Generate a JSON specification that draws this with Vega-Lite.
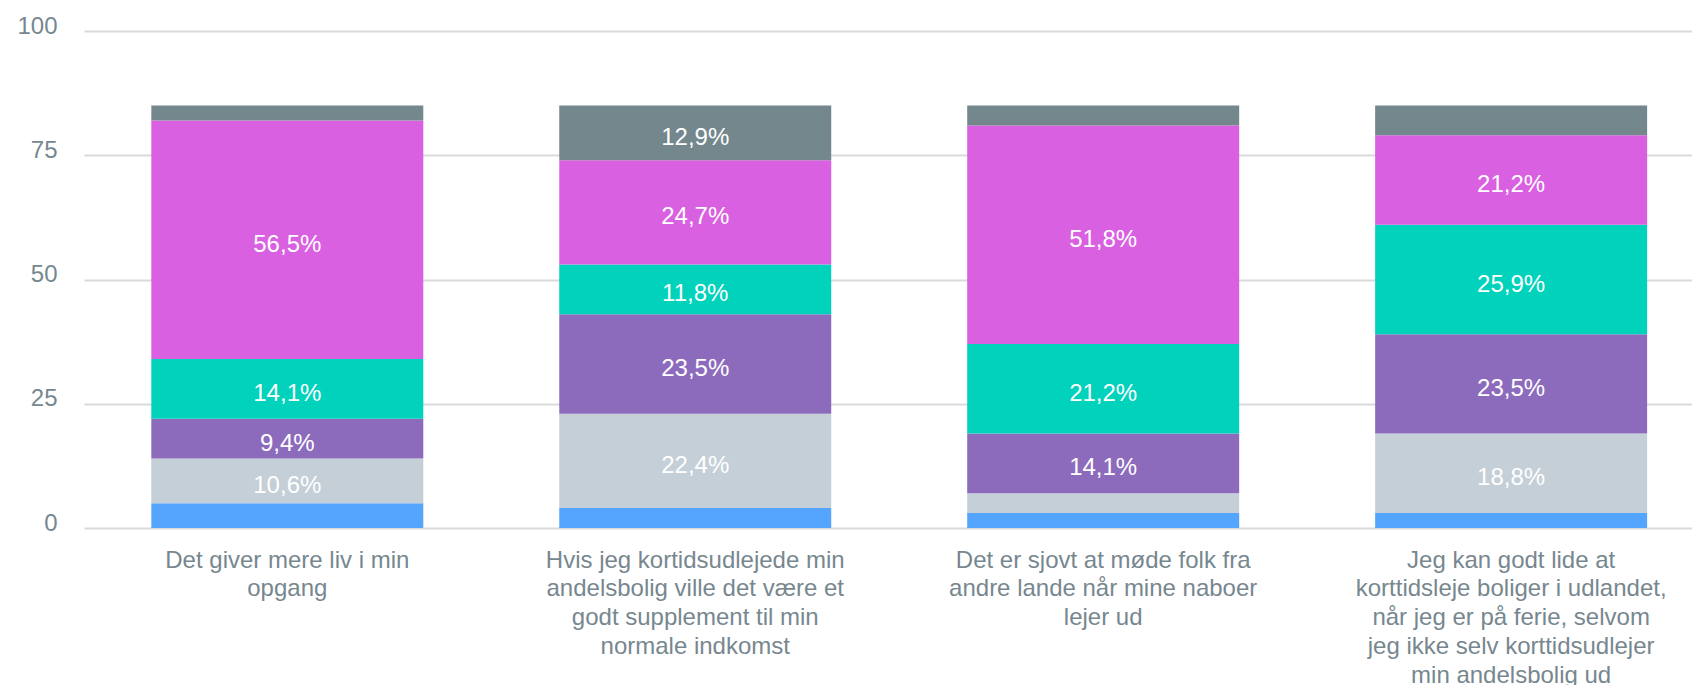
{
  "$schema": "https://vega.github.io/schema/vega-lite/v6.json",
  "autosize": {"type": "none"},
  "padding": {"left": 84, "top": 31, "right": 0, "bottom": 157},
  "width": 1608,
  "height": 497,
  "background": "#ffffff",
  "config": {
    "view": {"stroke": null},
    "font": "Liberation Sans"
  },
  "data": {
    "values": [
      {"category": "Det giver mere liv i min|opgang", "series": "Helt uenig", "order": 1, "count": 5, "label": ""},
      {"category": "Det giver mere liv i min|opgang", "series": "Delvist uenig", "order": 2, "count": 9, "label": "10,6%"},
      {"category": "Det giver mere liv i min|opgang", "series": "Hverken enig eller uenig", "order": 3, "count": 8, "label": "9,4%"},
      {"category": "Det giver mere liv i min|opgang", "series": "Delvist enig", "order": 4, "count": 12, "label": "14,1%"},
      {"category": "Det giver mere liv i min|opgang", "series": "Helt enig", "order": 5, "count": 48, "label": "56,5%"},
      {"category": "Det giver mere liv i min|opgang", "series": "Ved ikke", "order": 6, "count": 3, "label": ""},
      {"category": "Hvis jeg kortidsudlejede min|andelsbolig ville det være et|godt supplement til min|normale indkomst", "series": "Helt uenig", "order": 1, "count": 4, "label": ""},
      {"category": "Hvis jeg kortidsudlejede min|andelsbolig ville det være et|godt supplement til min|normale indkomst", "series": "Delvist uenig", "order": 2, "count": 19, "label": "22,4%"},
      {"category": "Hvis jeg kortidsudlejede min|andelsbolig ville det være et|godt supplement til min|normale indkomst", "series": "Hverken enig eller uenig", "order": 3, "count": 20, "label": "23,5%"},
      {"category": "Hvis jeg kortidsudlejede min|andelsbolig ville det være et|godt supplement til min|normale indkomst", "series": "Delvist enig", "order": 4, "count": 10, "label": "11,8%"},
      {"category": "Hvis jeg kortidsudlejede min|andelsbolig ville det være et|godt supplement til min|normale indkomst", "series": "Helt enig", "order": 5, "count": 21, "label": "24,7%"},
      {"category": "Hvis jeg kortidsudlejede min|andelsbolig ville det være et|godt supplement til min|normale indkomst", "series": "Ved ikke", "order": 6, "count": 11, "label": "12,9%"},
      {"category": "Det er sjovt at møde folk fra|andre lande når mine naboer|lejer ud", "series": "Helt uenig", "order": 1, "count": 3, "label": ""},
      {"category": "Det er sjovt at møde folk fra|andre lande når mine naboer|lejer ud", "series": "Delvist uenig", "order": 2, "count": 4, "label": ""},
      {"category": "Det er sjovt at møde folk fra|andre lande når mine naboer|lejer ud", "series": "Hverken enig eller uenig", "order": 3, "count": 12, "label": "14,1%"},
      {"category": "Det er sjovt at møde folk fra|andre lande når mine naboer|lejer ud", "series": "Delvist enig", "order": 4, "count": 18, "label": "21,2%"},
      {"category": "Det er sjovt at møde folk fra|andre lande når mine naboer|lejer ud", "series": "Helt enig", "order": 5, "count": 44, "label": "51,8%"},
      {"category": "Det er sjovt at møde folk fra|andre lande når mine naboer|lejer ud", "series": "Ved ikke", "order": 6, "count": 4, "label": ""},
      {"category": "Jeg kan godt lide at|korttidsleje boliger i udlandet,|når jeg er på ferie, selvom|jeg ikke selv korttidsudlejer|min andelsbolig ud", "series": "Helt uenig", "order": 1, "count": 3, "label": ""},
      {"category": "Jeg kan godt lide at|korttidsleje boliger i udlandet,|når jeg er på ferie, selvom|jeg ikke selv korttidsudlejer|min andelsbolig ud", "series": "Delvist uenig", "order": 2, "count": 16, "label": "18,8%"},
      {"category": "Jeg kan godt lide at|korttidsleje boliger i udlandet,|når jeg er på ferie, selvom|jeg ikke selv korttidsudlejer|min andelsbolig ud", "series": "Hverken enig eller uenig", "order": 3, "count": 20, "label": "23,5%"},
      {"category": "Jeg kan godt lide at|korttidsleje boliger i udlandet,|når jeg er på ferie, selvom|jeg ikke selv korttidsudlejer|min andelsbolig ud", "series": "Delvist enig", "order": 4, "count": 22, "label": "25,9%"},
      {"category": "Jeg kan godt lide at|korttidsleje boliger i udlandet,|når jeg er på ferie, selvom|jeg ikke selv korttidsudlejer|min andelsbolig ud", "series": "Helt enig", "order": 5, "count": 18, "label": "21,2%"},
      {"category": "Jeg kan godt lide at|korttidsleje boliger i udlandet,|når jeg er på ferie, selvom|jeg ikke selv korttidsudlejer|min andelsbolig ud", "series": "Ved ikke", "order": 6, "count": 6, "label": ""}
    ]
  },
  "encoding": {
    "x": {
      "field": "category",
      "type": "nominal",
      "sort": null,
      "scale": {"paddingInner": 0.3333, "paddingOuter": 0.1375, "align": 0.6},
      "axis": {
        "title": null,
        "domain": false,
        "ticks": false,
        "labelAngle": 0,
        "labelExpr": "split(datum.label, '|')",
        "labelFont": "Liberation Sans",
        "labelFontSize": 24,
        "labelColor": "#77878f",
        "labelLineHeight": 28.8,
        "labelBaseline": "top",
        "labelPadding": 20,
        "labelLimit": 0
      }
    },
    "y": {
      "field": "count",
      "type": "quantitative",
      "stack": "zero",
      "scale": {"domain": [0, 100], "nice": false},
      "axis": {
        "title": null,
        "domain": false,
        "ticks": false,
        "values": [0, 25, 50, 75, 100],
        "grid": true,
        "gridColor": "#dadada",
        "gridWidth": 2,
        "labelFont": "Liberation Sans",
        "labelFontSize": 24,
        "labelColor": "#77878f",
        "labelPadding": 27,
        "labelBaseline": "alphabetic",
        "labelOffset": 2
      }
    },
    "order": {"field": "order", "type": "quantitative", "sort": "ascending"}
  },
  "layer": [
    {
      "mark": {"type": "bar"},
      "encoding": {
        "color": {
          "field": "series",
          "type": "nominal",
          "legend": null,
          "scale": {
            "domain": ["Helt uenig", "Delvist uenig", "Hverken enig eller uenig", "Delvist enig", "Helt enig", "Ved ikke"],
            "range": ["#55a5ff", "#c5cfd7", "#8c6bbd", "#00d2bb", "#d960e1", "#74878d"]
          }
        }
      }
    },
    {
      "mark": {"type": "text", "color": "#ffffff", "font": "Liberation Sans", "fontSize": 24, "baseline": "middle", "align": "center", "dy": 5},
      "encoding": {
        "y": {"field": "count", "type": "quantitative", "stack": "zero", "bandPosition": 0.5},
        "text": {"field": "label", "type": "nominal"}
      }
    }
  ]
}
